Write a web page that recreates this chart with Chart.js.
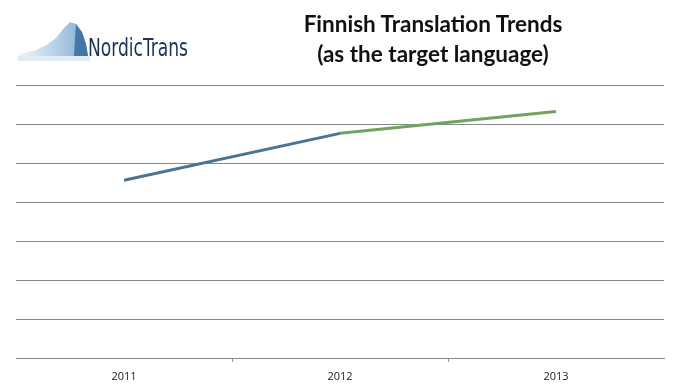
<!DOCTYPE html>
<html>
<head>
<meta charset="utf-8">
<script src="https://cdn.jsdelivr.net/npm/chart.js@4/dist/chart.umd.min.js"></script>
<style>
  html, body { margin: 0; padding: 0; background: #fff; }
  #wrap { position: relative; width: 681px; height: 392px; }
  #title {
    position: absolute; left: 233px; top: 9px; width: 400px;
    text-align: center; font-family: Lato, "Open Sans", sans-serif;
    font-weight: bold; font-size: 22.5px; line-height: 30px; color: #111;
  }
  #logo { position: absolute; left: 14px; top: 14px; }
</style>
</head>
<body>
<div id="wrap">
  <canvas id="myChart" width="681" height="392"></canvas>
  <div id="title">Finnish Translation Trends<br>(as the target language)</div>
  <svg id="logo" width="190" height="52" viewBox="0 0 190 52">
    <defs>
      <linearGradient id="ice" x1="0" y1="0" x2="1" y2="0">
        <stop offset="0" stop-color="#eef4fa"/>
        <stop offset="0.55" stop-color="#b3cfe6"/>
        <stop offset="1" stop-color="#7fa9cf"/>
      </linearGradient>
    </defs>
    <polygon points="6,40 22,36 34,30 42,24 50,14 56,8 62,10 68,18 72,30 74,42 6,42" fill="url(#ice)"/>
    <polygon points="62,10 68,18 72,30 74,42 60,42 61,24" fill="#2f6198" opacity="0.75"/>
    <rect x="4" y="42" width="72" height="5" fill="#d3e3f0" opacity="0.7"/>
    <text x="74" y="42" font-family="'DejaVu Sans Condensed', 'Liberation Sans Narrow', sans-serif"
          font-size="25" fill="#1c3454" textLength="100" lengthAdjust="spacingAndGlyphs">NordicTrans</text>
  </svg>
</div>
<script>
const years = ['2011', '2012', '2013'];
const blueLine = [45.6, 57.6, null];
const greenLine = [null, 57.6, 63.2];
const yMin = 0, yMax = 70, yStep = 10;

var ctx = document.getElementById('myChart').getContext('2d');
var myChart = new Chart(ctx, {
  type: 'line',
  data: {
    labels: years,
    datasets: [{
      label: 'blue',
      data: blueLine,
      borderColor: '#4a7394',
      borderWidth: 3,
      pointRadius: 0,
      tension: 0
    }, {
      label: 'green',
      data: greenLine,
      borderColor: '#6fa45d',
      borderWidth: 3,
      pointRadius: 0,
      tension: 0
    }]
  },
  options: {
    responsive: false,
    animation: false,
    layout: { padding: { left: 16, right: 17, top: 85, bottom: 10 } },
    plugins: { legend: { display: false }, tooltip: { enabled: false }, title: { display: false } },
    scales: {
      x: {
        offset: true,
        grid: {
          offset: true, drawOnChartArea: false, drawTicks: true, tickLength: 4,
          // only the inner tick marks show, not the ones at the ends
          color: function(c) { return (c.index > 0 && c.index < years.length) ? '#999' : 'rgba(0,0,0,0)'; }
        },
        border: { display: true, color: '#888', width: 1 },
        ticks: { color: '#222', padding: 8, font: { family: "'Open Sans', sans-serif", size: 11 } },
        afterFit: function(scale) { scale.height = 24; }
      },
      y: {
        min: yMin, max: yMax,
        ticks: { display: false, stepSize: yStep },
        grid: { color: '#8a8a8a', lineWidth: 1, drawTicks: false },
        border: { display: false },
        afterFit: function(scale) { scale.width = 0; }
      }
    }
  }
});
</script>
</body>
</html>
